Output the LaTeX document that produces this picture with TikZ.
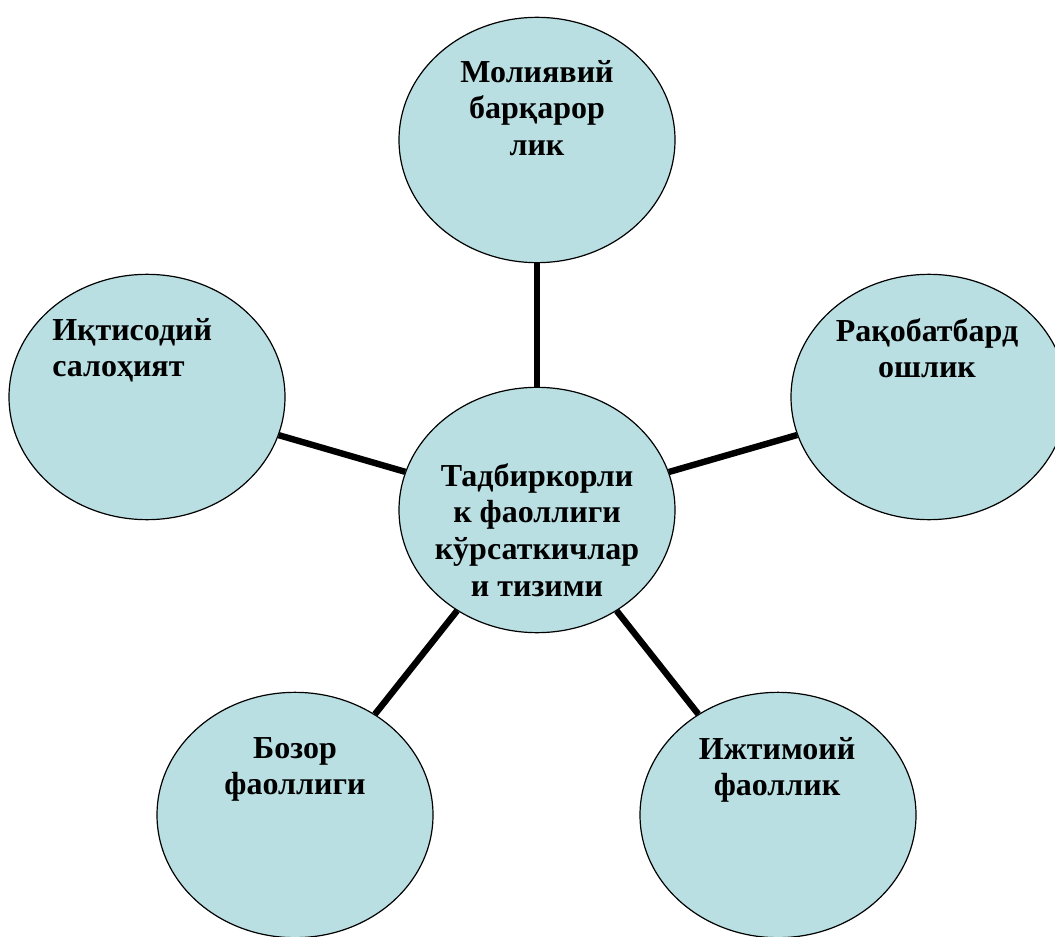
\documentclass[tikz,border=0pt]{standalone}
\usepackage{fontspec}
\setmainfont{Liberation Serif}
\usepackage{tikz}
\usetikzlibrary{shapes.geometric}
\definecolor{bubble}{RGB}{185,223,227}

\tikzset{
	blob/.style={ellipse, draw=black, line width=0.9pt, fill=bubble, minimum width=207pt, minimum height=184pt, inner sep=0pt},
	lbl/.style={font=\bfseries\fontsize{24}{27.5}\selectfont, inner sep=0pt, anchor=north, align=center},
	link/.style={black, line width=4.8pt}
}

\begin{document}
\begin{tikzpicture}[x=0.75pt, y=-0.75pt]
	\clip (0,0) rectangle (1055,937);
	\fill [white] (0,0) rectangle (1055,937);

	%Centre

	\node (Core) [blob] at (537,510) { };
	\node (CoreName) [lbl, shift={(0,-47)}] at (Core) {Тадбиркорли\\к фаоллиги\\кўрсаткичлар\\и тизими};

	%Top

	\node (Fin) [blob] at (537,140) { };
	\node (FinName) [lbl, shift={(0,-80)}] at (Fin) {Молиявий\\барқарор\\лик};

	%Left

	\node (Eco) [blob] at (147,397) { };
	\node (EcoName) [lbl, anchor=north west, align=left, shift={(-95,-79)}] at (Eco) {Иқтисодий\\салоҳият};

	%Right

	\node (Comp) [blob] at (929,397) { };
	\node (CompName) [lbl, shift={(-2,-79)}] at (Comp) {Рақобатбард\\ошлик};

	%Bottom left

	\node (Mkt) [blob] at (295,815) { };
	\node (MktName) [lbl, shift={(0,-78)}] at (Mkt) {Бозор\\фаоллиги};

	%Bottom right

	\node (Soc) [blob] at (778,815) { };
	\node (SocName) [lbl, shift={(-1,-78)}] at (Soc) {Ижтимоий\\фаоллик};

	%Links

	\draw [link] (Core) -- (Fin);
	\draw [link] (Core) -- (Eco);
	\draw [link] (Core) -- (Comp);
	\draw [link] (Core) -- (Mkt);
	\draw [link] (Core) -- (Soc);

\end{tikzpicture}
\end{document}
